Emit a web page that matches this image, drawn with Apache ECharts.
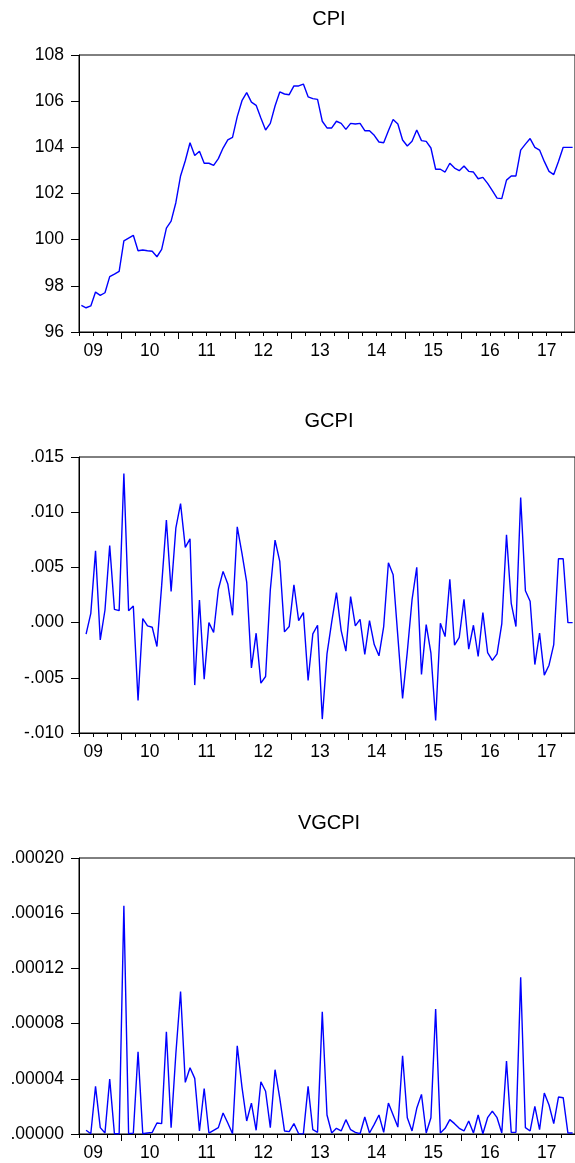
<!DOCTYPE html>
<html>
<head>
<meta charset="utf-8">
<script src="https://cdn.jsdelivr.net/npm/echarts@6/dist/echarts.min.js"></script>
<style>
html,body{margin:0;padding:0;background:#fff;}
#chart{width:575px;height:1163px;}
</style>
</head>
<body>
<div id="chart"></div>
<script>
// Monthly sample: 2009M04 .. 2017M12 (x = months since Jan 2009)
const startMonth = 3;            // April 2009
const endMonth = 108;            // end of Dec 2017
const yearLabels = ['09','10','11','12','13','14','15','16','17'];
const titles = ['CPI','GCPI','VGCPI'];

// CPI from 2009M04
const cpi = [97.15, 97.05, 97.13, 97.73, 97.59, 97.70, 98.40, 98.51, 98.63, 99.95,
  100.07, 100.19, 99.52, 99.55, 99.52, 99.50, 99.26, 99.58, 100.50, 100.80,
  101.60, 102.76, 103.42, 104.20, 103.65, 103.83, 103.31, 103.31, 103.22, 103.51,
  103.97, 104.32, 104.43, 105.33, 106.02, 106.37, 105.96, 105.82, 105.27, 104.75,
  105.04, 105.79, 106.40, 106.31, 106.28, 106.66, 106.66, 106.74, 106.19, 106.11,
  106.08, 105.13, 104.84, 104.84, 105.13, 105.04, 104.78, 105.04, 105.01, 105.04,
  104.72, 104.72, 104.52, 104.23, 104.20, 104.72, 105.21, 105.01, 104.32, 104.06,
  104.26, 104.75, 104.29, 104.26, 103.97, 103.05, 103.05, 102.93, 103.31, 103.10,
  102.99, 103.19, 102.96, 102.93, 102.64, 102.70, 102.44, 102.12, 101.80, 101.78,
  102.58, 102.76, 102.76, 103.88, 104.14, 104.38, 104.00, 103.88, 103.39, 102.96,
  102.82, 103.39, 104.00, 104.00, 104.00];

// GCPI from 2009M05
const gcpi = [-0.00105, 0.00084, 0.0065, -0.00157, 0.00114, 0.00699, 0.0012, 0.00108, 0.0135, 0.00108,
  0.0015, -0.00705, 0.00036, -0.0003, -0.00042, -0.00217, 0.00337, 0.00928, 0.00283, 0.00855,
  0.01078, 0.00681, 0.00759, -0.00566, 0.00205, -0.00512, 0.0, -0.0009, 0.0030, 0.00464,
  0.0035, 0.00066, 0.00867, 0.00627, 0.00367, -0.0041, -0.00096, -0.00548, -0.00488, 0.00295,
  0.00747, 0.00554, -0.00084, -0.00036, 0.00343, 0.00018, 0.0009, -0.00524, -0.00102, -0.00024,
  -0.00874, -0.00283, 0.00006, 0.00271, -0.00072, -0.00259, 0.00235, -0.0003, 0.0003, -0.00289,
  0.00018, -0.00199, -0.00301, -0.00036, 0.00542, 0.00434, -0.00127, -0.00687, -0.00265, 0.00205,
  0.005, -0.0047, -0.00018, -0.00277, -0.00886, -0.00006, -0.00127, 0.00392, -0.00205, -0.00133,
  0.00211, -0.00241, -0.00024, -0.00307, 0.0009, -0.00271, -0.00343, -0.00283, -0.00012, 0.00795,
  0.00175, -0.00036, 0.01133, 0.00289, 0.00193, -0.0038, -0.00096, -0.00476, -0.00386, -0.00199,
  0.00578, 0.00578, 0.0, 0.0];

// VGCPI from 2009M05
const vgcpi = [0.0000027, 0.0000002, 0.0000345, 0.0000046, 0.0000007, 0.0000398, 0.0000002, 0.0000002, 0.0001653, 0.0000002,
  0.0000006, 0.0000596, 0.0000002, 0.0000007, 0.0000012, 0.0000080, 0.0000075, 0.0000741, 0.0000046, 0.0000580,
  0.0001033, 0.0000374, 0.0000480, 0.0000403, 0.0000022, 0.0000330, 0.0000007, 0.0000027, 0.0000046, 0.0000152,
  0.0000080, 0.0000002, 0.0000639, 0.0000340, 0.0000094, 0.0000224, 0.0000027, 0.0000379, 0.0000310, 0.0000046,
  0.0000466, 0.0000260, 0.0000022, 0.0000017, 0.0000075, 0.0000002, 0.0000001, 0.0000345, 0.0000031, 0.0000012,
  0.0000885, 0.0000138, 0.0000007, 0.0000041, 0.0000022, 0.0000104, 0.0000031, 0.0000012, 0.0000002, 0.0000123,
  0.0000007, 0.0000070, 0.0000138, 0.0000012, 0.0000224, 0.0000138, 0.0000050, 0.0000567, 0.0000118, 0.0000022,
  0.0000186, 0.0000287, 0.0000007, 0.0000118, 0.0000905, 0.0000007, 0.0000041, 0.0000104, 0.0000075, 0.0000041,
  0.0000022, 0.0000094, 0.0000007, 0.0000138, 0.0000002, 0.0000118, 0.0000166, 0.0000118, 0.0000007, 0.0000528,
  0.0000012, 0.0000012, 0.0001136, 0.0000046, 0.0000022, 0.0000200, 0.0000031, 0.0000297, 0.0000210, 0.0000075,
  0.0000268, 0.0000263, 0.0000007, 0.0000007];

const FONT = "'Liberation Sans', Arial, sans-serif";
const quarterTicks = [];
for (let m = startMonth; m <= endMonth; m += 3) quarterTicks.push(m);
const yearTicks = [];
for (let m = 12; m < endMonth; m += 12) yearTicks.push(m);
const labelPos = yearLabels.map((_, k) => 6 + 12 * k);

function toPairs(arr, firstOffset) {
  return arr.map((v, k) => [startMonth + firstOffset + k + 0.5, v]);
}

const grids = [
  {left: 79, top: 55, width: 499, height: 277},
  {left: 79, top: 457, width: 499, height: 276},
  {left: 79, top: 858, width: 499, height: 276}
];
const yCfg = [
  {min: 96, max: 108, interval: 2, fmt: v => String(Math.round(v))},
  {min: -0.010, max: 0.015, interval: 0.005, fmt: v => v.toFixed(3).replace('0.', '.')},
  {min: 0, max: 0.0002, interval: 0.00004, fmt: v => v.toFixed(5).replace('0.', '.')}
];
const titleTops = [9.5, 411.5, 813];
const series = [toPairs(cpi, 0), toPairs(gcpi, 1), toPairs(vgcpi, 1)];

const option = {
  animation: false,
  backgroundColor: '#fff',
  title: titles.map((t, g) => ({
    text: t, left: 329, top: titleTops[g], textAlign: 'center', padding: 0,
    textStyle: {fontSize: 20, fontWeight: 'normal', color: '#000', fontFamily: FONT}
  })),
  grid: grids.map(gr => Object.assign({show: true, borderColor: '#000', borderWidth: 1, backgroundColor: 'transparent'}, gr)),
  xAxis: [],
  yAxis: [],
  series: []
};

for (let g = 0; g < 3; g++) {
  option.xAxis.push({
    type: 'value', gridIndex: g, min: startMonth, max: endMonth, position: 'bottom',
    axisLine: {show: true, onZero: false, lineStyle: {color: '#000', width: 1}},
    axisTick: {show: true, customValues: quarterTicks, length: 4, lineStyle: {color: '#000', width: 1}},
    axisLabel: {show: true, customValues: labelPos, margin: 10, fontSize: 17.5, color: '#000', fontFamily: FONT,
      formatter: v => yearLabels[Math.round((v - 6) / 12)]},
    splitLine: {show: false}
  });
  option.xAxis.push({
    type: 'value', gridIndex: g, min: startMonth, max: endMonth, position: 'bottom',
    axisLine: {show: false, onZero: false},
    axisTick: {show: true, customValues: yearTicks, length: 7, lineStyle: {color: '#000', width: 1}},
    axisLabel: {show: false},
    splitLine: {show: false}
  });
  const yc = yCfg[g];
  option.yAxis.push({
    type: 'value', gridIndex: g, min: yc.min, max: yc.max, interval: yc.interval,
    axisLine: {show: true, onZero: false, lineStyle: {color: '#000', width: 1}},
    axisTick: {show: true, length: 8, lineStyle: {color: '#000', width: 1}},
    axisLabel: {margin: 15, fontSize: 17.5, color: '#000', fontFamily: FONT, formatter: yc.fmt},
    splitLine: {show: false}
  });
  option.series.push({
    name: titles[g], type: 'line', xAxisIndex: 2 * g, yAxisIndex: g,
    data: series[g], showSymbol: false, symbol: 'none', clip: true,
    lineStyle: {color: '#0000FF', width: 1.4}
  });
}

const chart = echarts.init(document.getElementById('chart'), null, {renderer: 'canvas'});
chart.setOption(option);
</script>
</body>
</html>
